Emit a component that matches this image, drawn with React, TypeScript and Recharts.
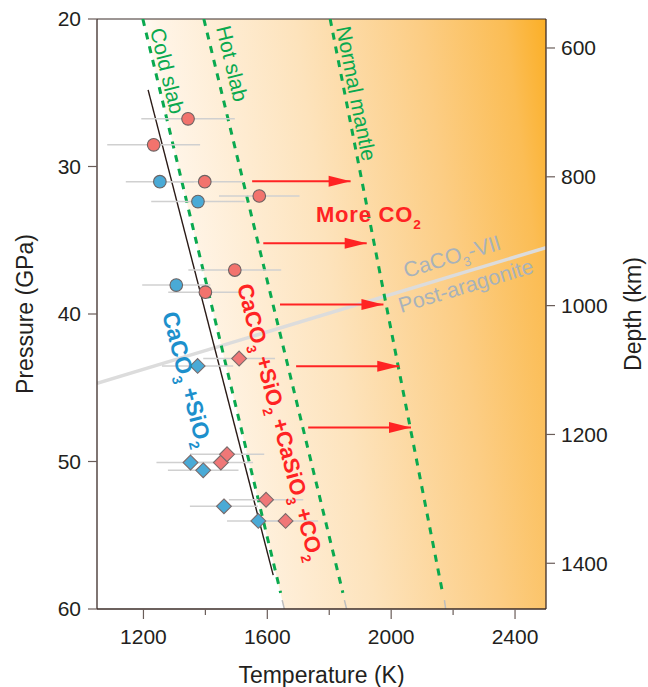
import React from "react";
import {
  ComposedChart, XAxis, YAxis, Line, Area, Scatter, ErrorBar, ReferenceDot, ReferenceLine,
} from "recharts";

// ─── Data (t = temperature K, p = pressure GPa) ───────────────────────

const coldSlab = [{ t: 1198, p: 20 }, { t: 1643, p: 58.9 }];
const hotSlab = [{ t: 1395, p: 20 }, { t: 1844, p: 58.9 }];
const normalMantle = [{ t: 1803, p: 20 }, { t: 2166, p: 58.9 }];

// short grey stubs under the green geotherms
const coldTail = [{ t: 1648, p: 59.4 }, { t: 1655, p: 60 }];
const hotTail = [{ t: 1849, p: 59.4 }, { t: 1856, p: 60 }];
const mantleTail = [{ t: 2172, p: 59.4 }, { t: 2176, p: 60 }];

const reactionLine = [{ t: 1215, p: 24.8 }, { t: 1619, p: 57.7 }];
const phaseBoundary = [{ t: 1050, p: 44.7 }, { t: 2500, p: 35.5 }];
const warmZone = [{ t: 1198, p: 20 }, { t: 1655, p: 60 }, { t: 2500, p: 60 }];

const arrowP = [31.0, 35.2, 39.35, 43.55, 47.7];
const arrowFromT = [1551, 1587, 1641, 1693, 1732];
const arrowToT = [1869, 1921, 1975, 2026, 2064];

const pinkCircles = [
  { t: 1344, p: 26.77, err: 151 },
  { t: 1233, p: 28.53, err: 150 },
  { t: 1398, p: 31.03, err: 123 },
  { t: 1574, p: 32.0, err: 130 },
  { t: 1495, p: 37.02, err: 150 },
  { t: 1400, p: 38.52, err: 120 },
];
const blueCircles = [
  { t: 1253, p: 31.03, err: 110 },
  { t: 1376, p: 32.38, err: 151 },
  { t: 1306, p: 38.04, err: 110 },
];
const pinkDiamonds = [
  { t: 1509, p: 43.02, err: 116 },
  { t: 1450, p: 50.07, err: 104 },
  { t: 1470, p: 49.51, err: 120 },
  { t: 1596, p: 52.59, err: 120 },
  { t: 1659, p: 54.03, err: 105 },
];
const blueDiamonds = [
  { t: 1375, p: 43.52, err: 115 },
  { t: 1352, p: 50.07, err: 110 },
  { t: 1393, p: 50.6, err: 114 },
  { t: 1460, p: 53.04, err: 110 },
  { t: 1571, p: 54.03, err: 101 },
];

const tempTicks = [1200, 1400, 1600, 1800, 2000, 2200, 2400];
const pressureTicks = [20, 30, 40, 50, 60];
const depthTicks = [600, 800, 1000, 1200, 1400];

// ─── Styling ──────────────────────────────────────────────────────────

const FONT = "'Liberation Sans', Arial, sans-serif";
const AXIS = "#3b2c28";
const TICK = "#6a5d59";
const TEXT = "#231f20";
const GREEN = "#0aa94f";
const RED = "#ff2323";
const BLUE = "#1d90cc";
const GREY_LABEL = "#a8b2bb";

const arrows = arrowP.map((p, i) => [
  { t: arrowFromT[i], p },
  { t: arrowToT[i], p },
]);
const allPoints = [...pinkCircles, ...blueCircles, ...pinkDiamonds, ...blueDiamonds];

function Formula({ text, fs }: { text: string; fs: number }) {
  const parts = text.split(/(_\d)/).filter(Boolean);
  const drop = fs * 0.3;
  let lowered = false;
  return (
    <>
      {parts.map((s, i) => {
        if (s.startsWith("_")) {
          lowered = true;
          return (
            <tspan key={i} fontSize={fs * 0.62} dy={drop}>
              {s.slice(1)}
            </tspan>
          );
        }
        const dy = lowered ? -drop : 0;
        lowered = false;
        return (
          <tspan key={i} dy={dy}>
            {s}
          </tspan>
        );
      })}
    </>
  );
}

const note =
  (text: string, fs: number, fill: string, angle: number, weight: string | number = "normal", spacing = 0) =>
  (props: any) => {
    const { cx, cy } = props;
    return (
      <text
        x={cx}
        y={cy}
        transform={`rotate(${angle} ${cx} ${cy})`}
        fontSize={fs}
        fill={fill}
        fontWeight={weight}
        letterSpacing={spacing}
        style={{ whiteSpace: "pre", fontFamily: FONT }}
      >
        <Formula text={text} fs={fs} />
      </text>
    );
  };

const circleShape = (fill: string) => (props: any) =>
  <circle cx={props.cx} cy={props.cy} r={6.3} fill={fill} stroke="#6b6262" strokeWidth={1.1} />;

const diamondShape = (fill: string) => (props: any) => {
  const { cx, cy } = props;
  const s = 7.4;
  return (
    <path
      d={`M${cx},${cy - s}L${cx + s},${cy}L${cx},${cy + s}L${cx - s},${cy}Z`}
      fill={fill}
      stroke="#7a6a6a"
      strokeWidth={1.1}
    />
  );
};

const ArrowHead = (props: any) => {
  const { cx, cy, index } = props;
  if (index !== 1) return <g key={`ah${index}`} />;
  return <path key={`ah${index}`} d={`M${cx},${cy}L${cx - 22},${cy - 5.5}L${cx - 22},${cy + 5.5}Z`} fill={RED} />;
};

const XTick = (props: any) => {
  const { x, y, payload } = props;
  const major = payload.value % 400 === 0;
  return (
    <g>
      <line x1={x} x2={x} y1={y} y2={y + (major ? 10 : 6)} stroke={TICK} strokeWidth={1.2} />
      {major && (
        <text x={x} y={y + 34.5} textAnchor="middle" fontSize={21} fill={TEXT} style={{ fontFamily: FONT }}>
          {payload.value}
        </text>
      )}
    </g>
  );
};

const axisTitle = (text: string, where: "bottom" | "left" | "right") => (props: any) => {
  const vb = props.viewBox;
  const common = { fontSize: 23, fill: TEXT, textAnchor: "middle" as const, style: { fontFamily: FONT } };
  if (where === "bottom") {
    return <text x={vb.x + vb.width / 2} y={vb.y + 73.5} {...common}>{text}</text>;
  }
  const x = where === "left" ? vb.x + 25 : vb.x + 87;
  const y = vb.y + vb.height / 2;
  return (
    <text x={x} y={y} dy="0.35em" transform={`rotate(-90 ${x} ${y})`} {...common}>
      {text}
    </text>
  );
};

export default function App() {
  return (
    <div style={{ position: "absolute", left: 0, top: 0, fontFamily: FONT }}>
      <ComposedChart width={648} height={687} margin={{ top: 19, right: 0, bottom: 0, left: 0 }}>
        <defs>
          <linearGradient id="warm" x1="0" y1="0.2" x2="1" y2="0">
            <stop offset="0" stopColor="#ffffff" />
            <stop offset="0.08" stopColor="#fff4e6" />
            <stop offset="0.4" stopColor="#fde3bc" />
            <stop offset="0.7" stopColor="#fccd84" />
            <stop offset="0.9" stopColor="#fbbd55" />
            <stop offset="1" stopColor="#fbaf26" />
          </linearGradient>
        </defs>

        <XAxis
          dataKey="t"
          type="number"
          domain={[1050, 2500]}
          allowDataOverflow
          ticks={tempTicks}
          tickLine={false}
          tickSize={0}
          tickMargin={0}
          tick={<XTick />}
          height={78}
          axisLine={{ stroke: AXIS, strokeWidth: 1.3 }}
          label={axisTitle("Temperature (K)", "bottom")}
        />
        <YAxis
          dataKey="p"
          type="number"
          domain={[20, 60]}
          reversed
          allowDataOverflow
          ticks={pressureTicks}
          width={97}
          tickSize={9}
          tickMargin={7}
          tick={{ fontSize: 21, fill: TEXT }}
          tickLine={{ stroke: TICK, strokeWidth: 1.2 }}
          axisLine={{ stroke: AXIS, strokeWidth: 1.3 }}
          label={axisTitle("Pressure (GPa)", "left")}
        />
        <YAxis
          yAxisId="depth"
          orientation="right"
          type="number"
          domain={[555, 1471]}
          reversed
          allowDataOverflow
          ticks={depthTicks}
          width={102}
          tickSize={9}
          tickMargin={6}
          tick={{ fontSize: 21, fill: TEXT }}
          tickLine={{ stroke: TICK, strokeWidth: 1.2 }}
          axisLine={{ stroke: AXIS, strokeWidth: 1.3 }}
          label={axisTitle("Depth (km)", "right")}
        />

        <ReferenceLine y={20} stroke={AXIS} strokeWidth={1} />

        <Area
          data={warmZone}
          dataKey="p"
          type="linear"
          baseValue={20}
          stroke="none"
          fill="url(#warm)"
          fillOpacity={1}
          isAnimationActive={false}
        />

        <Line data={coldTail} dataKey="p" stroke="#bdbdbd" strokeWidth={1.5} dot={false} isAnimationActive={false} />
        <Line data={hotTail} dataKey="p" stroke="#bdbdbd" strokeWidth={1.5} dot={false} isAnimationActive={false} />
        <Line data={mantleTail} dataKey="p" stroke="#bdbdbd" strokeWidth={1.5} dot={false} isAnimationActive={false} />

        <Line data={phaseBoundary} dataKey="p" stroke="#dcdcdc" strokeWidth={3.5} dot={false} isAnimationActive={false} />

        <Line data={coldSlab} dataKey="p" stroke={GREEN} strokeWidth={3} strokeDasharray="7 7" dot={false} isAnimationActive={false} />
        <Line data={hotSlab} dataKey="p" stroke={GREEN} strokeWidth={3} strokeDasharray="7 7" dot={false} isAnimationActive={false} />
        <Line data={normalMantle} dataKey="p" stroke={GREEN} strokeWidth={3} strokeDasharray="7 7" dot={false} isAnimationActive={false} />

        <Line data={reactionLine} dataKey="p" stroke="#2a1a16" strokeWidth={1.4} dot={false} isAnimationActive={false} />

        {arrows.map((a, i) => (
          <Line key={`arrow${i}`} data={a} dataKey="p" stroke={RED} strokeWidth={2} dot={ArrowHead} isAnimationActive={false} />
        ))}

        <Scatter data={allPoints} dataKey="p" shape={() => <g />} isAnimationActive={false}>
          <ErrorBar dataKey="err" direction="x" width={0} stroke="#d0d0d0" strokeWidth={1.5} />
        </Scatter>
        <Scatter data={pinkCircles} dataKey="p" shape={circleShape("#f2736d")} isAnimationActive={false} />
        <Scatter data={blueCircles} dataKey="p" shape={circleShape("#4aaad6")} isAnimationActive={false} />
        <Scatter data={pinkDiamonds} dataKey="p" shape={diamondShape("#f07777")} isAnimationActive={false} />
        <Scatter data={blueDiamonds} dataKey="p" shape={diamondShape("#4aaad6")} isAnimationActive={false} />

        <ReferenceDot x={1221} y={20.75} r={0} shape={note("Cold slab", 21, GREEN, 76.5)} />
        <ReferenceDot x={1434} y={20.6} r={0} shape={note("Hot slab", 21, GREEN, 76.5)} />
        <ReferenceDot x={1822} y={20.6} r={0} shape={note("Normal mantle", 21, GREEN, 79)} />
        <ReferenceDot x={1757} y={33.76} r={0} shape={note("More CO_2", 22, RED, 0, "bold", 0.8)} />
        <ReferenceDot x={2048} y={37.56} r={0} shape={note("CaCO_3-VII", 21.5, GREY_LABEL, -16.8)} />
        <ReferenceDot x={2032} y={39.93} r={0} shape={note("Post-aragonite", 21.5, GREY_LABEL, -16.8)} />
        <ReferenceDot x={1260} y={40.0} r={0} shape={note("CaCO_3 +SiO_2", 23, BLUE, 75.4, "bold")} />
        <ReferenceDot x={1502} y={38.1} r={0} shape={note("CaCO_3 +SiO_2 +CaSiO_3 +CO_2", 22, RED, 75.4, "bold")} />
      </ComposedChart>
    </div>
  );
}
